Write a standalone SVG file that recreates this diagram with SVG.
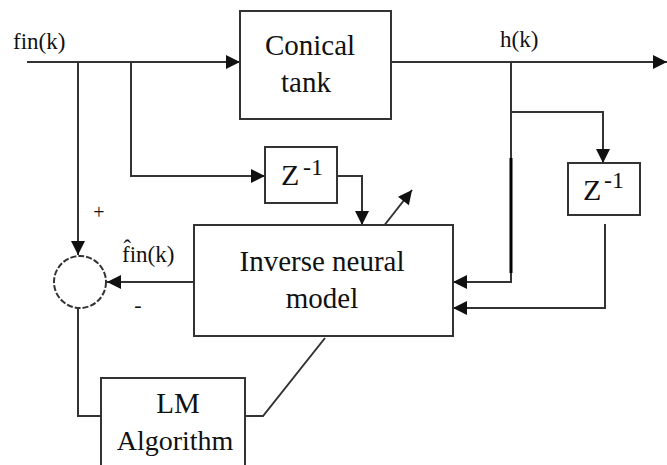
<svg xmlns="http://www.w3.org/2000/svg" width="667" height="465" viewBox="0 0 667 465">
<style>
.box{fill:#fff;stroke:#333;stroke-width:2}
.ln{fill:none;stroke:#333;stroke-width:2}
text{font-family:'Liberation Serif','Times New Roman',serif;fill:#111}
</style>
<defs>
<marker id="arb" viewBox="0 0 10 10" refX="10" refY="5" markerWidth="15" markerHeight="14" markerUnits="userSpaceOnUse" orient="auto">
<path d="M0,0 L10,5 L0,10 Z" fill="#111"/>
</marker>
</defs>
<rect width="667" height="465" fill="#fff"/>
<g id="connectors">
<path class="ln" d="M27,62 H240" marker-end="url(#arb)"/>
<path class="ln" d="M391,62 H667" marker-end="url(#arb)"/>
<path class="ln" d="M78,62 V255" marker-end="url(#arb)"/>
<path class="ln" d="M131,62 V176 H265" marker-end="url(#arb)"/>
<path class="ln" d="M337,176 H362 V225" marker-end="url(#arb)"/>
<path class="ln" d="M511,62 V282 H453" marker-end="url(#arb)"/>
<path d="M511,158 V273" stroke="#000" stroke-width="3"/>
<path class="ln" d="M511,112 H603 V163" marker-end="url(#arb)"/>
<path class="ln" d="M605,224 V308 H453" marker-end="url(#arb)"/>
<path class="ln" d="M194,282 H107" marker-end="url(#arb)"/>
<path class="ln" d="M78,308 V416 H101"/>
<path class="ln" d="M245,416 H263 L325,338"/>
<path class="ln" d="M383,227 L412,190" marker-end="url(#arb)"/>
</g>
<g id="tank">
<rect class="box" x="240" y="11" width="151" height="108"/>
<text x="310" y="55" font-size="29" text-anchor="middle">Conical</text>
<text x="306" y="92" font-size="29" text-anchor="middle">tank</text>
</g>
<g id="z1">
<rect class="box" x="265" y="147" width="72" height="56"/>
<text x="281" y="185" font-size="30">Z</text>
<text x="303" y="175" font-size="24">-1</text>
</g>
<g id="z2">
<rect class="box" x="568" y="163" width="72" height="52"/>
<text x="583" y="200" font-size="30">Z</text>
<text x="604" y="188" font-size="24">-1</text>
</g>
<g id="model">
<rect class="box" x="194" y="225" width="259" height="111"/>
<text x="322" y="271" font-size="29" text-anchor="middle">Inverse neural</text>
<text x="322" y="308" font-size="29" text-anchor="middle">model</text>
</g>
<g id="sum">
<circle cx="80" cy="282" r="26" fill="#fff" stroke="#333" stroke-width="2" stroke-dasharray="6,2"/>
<text x="99" y="219" font-size="20" text-anchor="middle">+</text>
<text x="138" y="312" font-size="22" text-anchor="middle">-</text>
</g>
<g id="lm">
<rect class="box" x="101" y="378" width="144" height="92"/>
<text x="178" y="413" font-size="29" text-anchor="middle">LM</text>
<text x="175" y="450" font-size="28" text-anchor="middle">Algorithm</text>
</g>
<g id="labels">
<text x="13" y="49" font-size="23">fin(k)</text>
<text x="500" y="47" font-size="23">h(k)</text>
<text x="122" y="262" font-size="23">f̂in(k)</text>
</g>
</svg>
